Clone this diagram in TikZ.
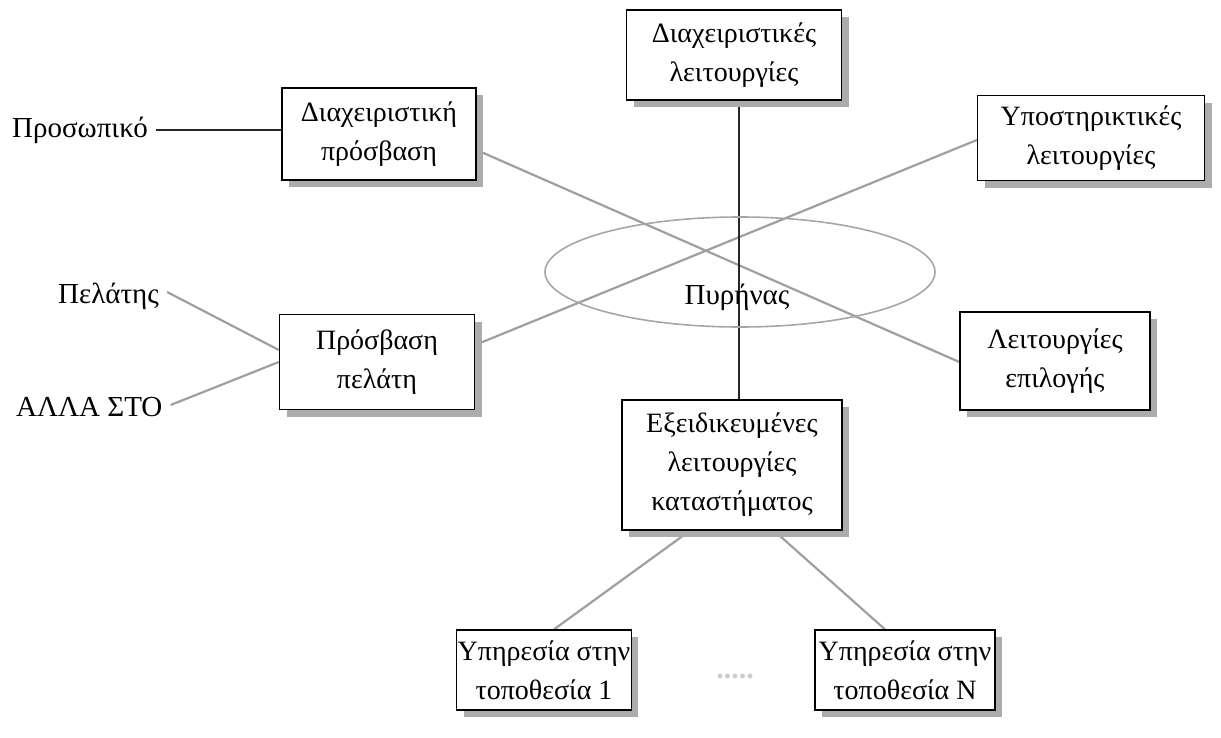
\documentclass[tikz,border=0pt]{standalone}
\usepackage{fontspec}
\setmainfont{Liberation Serif}
\usetikzlibrary{shadows,calc,shapes.geometric,backgrounds}
\begin{document}
\begin{tikzpicture}[x=1pt,y=-1pt,
  box/.style={draw=black, line width=1.3pt, fill=white, align=center, inner sep=1pt,
    font=\fontsize{28}{39}\selectfont, text=black,
    drop shadow={shadow xshift=7pt, shadow yshift=-7pt, fill=gray!65, opacity=1}},
  lbl/.style={font=\fontsize{29}{38}\selectfont, text=black, inner sep=2pt},
  gline/.style={draw=gray!75, line width=2.2pt},
  kline/.style={draw=black!85, line width=1.6pt}]
\useasboundingbox (0,0) rectangle (1221,737);
% nodes
\node[box, minimum width=215pt, minimum height=90pt] (top) at (734,55) {Διαχειριστικές\\λειτουργίες};
\node[box, minimum width=194pt, minimum height=92pt] (dp) at (379,134) {Διαχειριστική\\πρόσβαση};
\node[box, minimum width=227pt, minimum height=85pt] (ys) at (1091,138) {Υποστηρικτικές\\λειτουργίες};
\node[box, minimum width=190pt, minimum height=98pt] (le) at (1055,361) {Λειτουργίες\\επιλογής};
\node[box, minimum width=195pt, minimum height=95pt] (pp) at (377,362) {Πρόσβαση\\πελάτη};
\node[box, minimum width=220pt, minimum height=130pt] (ex) at (732,465) {Εξειδικευμένες\\λειτουργίες\\καταστήματος};
\node[box, minimum width=174pt, minimum height=80pt] (y1) at (544,670) {Υπηρεσία στην\\τοποθεσία 1};
\node[box, minimum width=180pt, minimum height=80pt] (yn) at (905,670) {Υπηρεσία στην\\τοποθεσία Ν};
\node[draw=gray!70, line width=1.6pt, ellipse, minimum width=390pt, minimum height=110pt] (core) at (740,272) {};
\node[lbl] (coret) at (737,297) {Πυρήνας};
\node[lbl, anchor=west] (pros) at (10,130) {Προσωπικό};
\node[lbl, anchor=west] (pel) at (56,296) {Πελάτης};
\node[lbl, anchor=west] (alla) at (14,407) {ΑΛΛΑ ΣΤΟ};
\node[text=gray!40, font=\fontsize{30}{30}\selectfont\bfseries] (dots) at (735,676) {.....};
% connectors
\begin{scope}[on background layer]
\draw[kline] ($(pros.east)+(6,0)$) -- (pros.east -| dp.west);
\draw[gline] ($(dp.east)+(0,16)$) -- ($(le.west)+(0,1)$);
\draw[gline] ($(pp.east)+(0,-17)$) -- ($(ys.west)+(0,2)$);
\draw[kline] ($(top.south)+(5,0)$) -- ($(ex.north)+(7,0)$);
\draw[gline] ($(pel.east)+(6,-4)$) -- ($(pp.west)+(0,-12)$);
\draw[gline] ($(alla.east)+(6,-2)$) -- (pp.west);
\draw[gline] ($(ex.south)+(-42,0)$) -- ($(y1.north)+(10,0)$);
\draw[gline] ($(ex.south)+(42,0)$) -- ($(yn.north)+(-20,0)$);
\end{scope}
\end{tikzpicture}
\end{document}
